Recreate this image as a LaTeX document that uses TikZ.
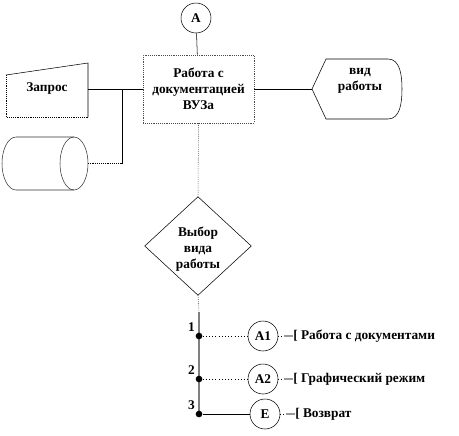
\documentclass[tikz,border=0pt]{standalone}
\usepackage{fontspec}
\setmainfont{Liberation Serif}
\usetikzlibrary{shapes.geometric}
\begin{document}
\begin{tikzpicture}[x=0.75pt,y=-0.75pt,font=\bfseries\fontsize{10}{12}\selectfont,
  conn/.style={circle,draw,minimum size=22.5pt,inner sep=0pt},
  lbl/.style={align=center,inner sep=0pt}]
  \useasboundingbox (0,0) rectangle (459,435);
  % top: connector and main box
  \node[conn] (A) at (196,18) {A};
  \node[draw=black!70,densely dotted,minimum width=83pt,minimum height=51pt] (doc) at (198.5,89) {};
  \node[lbl] at (doc.center) {Работа с\\документацией\\ВУЗа};
  % input and storage on the left
  \draw (6,75) -- (88,63) -- (88,117);
  \draw[densely dotted] (88,117) -- (6,117) -- (6,75);
  \node[lbl] (zapros) at (47,89) {Запрос};
  \coordinate (zr) at (88,89);
  \coordinate (j) at (122,89);
  \draw[black!80] (74,137) -- (16,137) arc (270:90:14 and 26.5) -- (74,190);
  \draw[black!80] (74,163.5) ellipse (14 and 26.5);
  \coordinate (cyl) at (88,163.5);
  % display on the right
  \draw (312,89) -- (326,59) -- (388,59) .. controls (400,59) and (402,75) .. (402,89)
    .. controls (402,103) and (400,119) .. (388,119) -- (326,119) -- cycle;
  \node[lbl] (vid) at (360,81) {вид\\работы};
  \coordinate (vw) at (312,89);
  % decision
  \node[diamond,draw,minimum width=80pt,minimum height=74pt,inner sep=0pt] (sel) at (198,246) {};
  \node[lbl] at (198,249) {Выбор\\вида\\работы};
  \draw (A) -- (doc);
  \draw (zr) -- (doc.west);
  \draw (j) -- (j |- cyl);
  \draw[densely dotted] (j |- cyl) -- (cyl);
  \draw (doc.east) -- (vw);
  \draw[densely dotted] (doc.south) -- (sel.north);
  % menu branches
  \coordinate (b0) at (199,312);
  \coordinate (b3) at (199,414);
  \draw[densely dotted] (sel.south) -- (b0);
  \draw[black!50,line width=1.1pt] (b0) -- (b3);
  \foreach \i/\y/\cx/\name/\txt/\ls in {1/336/263/A1/Работа с документами/dotted,
      2/379/263/A2/Графический режим/dotted,3/414/265/E/Возврат/solid}{
    \node[circle,fill,inner sep=0pt,minimum size=5pt] (d\i) at (199,\y) {};
    \node[anchor=south east,inner sep=1pt] at (d\i.north west) {\i};
    \node[conn] (c\i) at (\cx,\y) {\name};
    \draw[\ls] (d\i) -- (c\i);
    \coordinate (g\i) at (\cx+21,\y);
    \draw[dotted] (c\i.east) -- (g\i);
    \draw[black!40,line width=1.1pt] (g\i) -- ++(9,0) coordinate (h\i);
    \node[right,inner sep=0pt] (t\i) at (h\i) {[ \txt};
  }
\end{tikzpicture}
\end{document}
